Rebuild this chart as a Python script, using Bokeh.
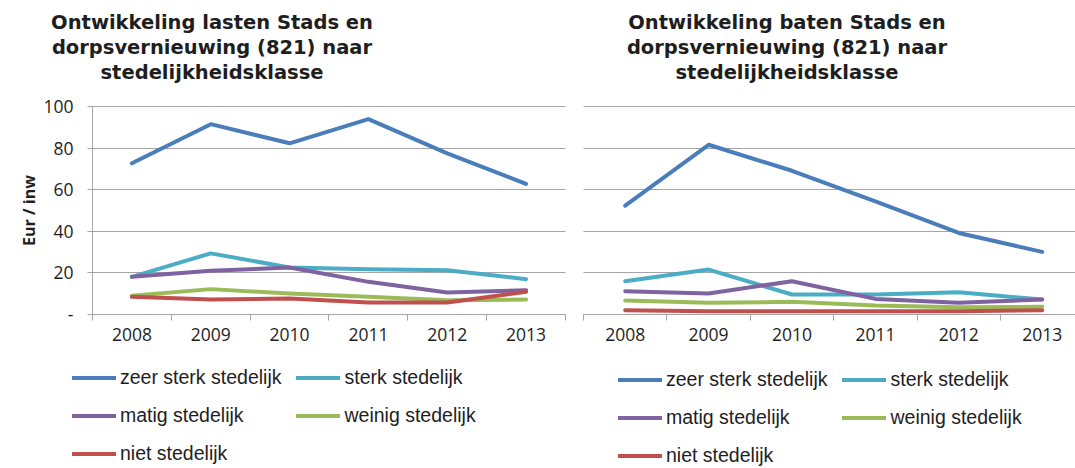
from bokeh.plotting import figure
from bokeh.layouts import row, column
from bokeh.models import Range1d, FixedTicker, Legend, LegendItem, Div
from bokeh.embed import file_html
from bokeh.resources import INLINE

years = ["2008", "2009", "2010", "2011", "2012", "2013"]
categories = ["zeer sterk stedelijk", "sterk stedelijk", "matig stedelijk",
              "weinig stedelijk", "niet stedelijk"]

lasten_zeer_sterk = [72.7, 91.5, 82.3, 93.9, 77.5, 62.8]
lasten_sterk = [18.1, 29.4, 22.6, 21.8, 21.3, 17.0]
lasten_matig = [18.1, 21.0, 22.6, 15.7, 10.6, 11.7]
lasten_weinig = [9.0, 12.2, 10.1, 8.5, 6.9, 7.2]
lasten_niet = [8.5, 7.2, 7.7, 5.8, 5.8, 10.9]

baten_zeer_sterk = [52.3, 81.6, 69.1, 54.4, 39.2, 30.1]
baten_sterk = [16.0, 21.6, 9.6, 9.6, 10.7, 7.2]
baten_matig = [11.2, 10.1, 16.0, 7.5, 5.6, 7.2]
baten_weinig = [6.7, 5.6, 6.1, 4.3, 3.5, 3.7]
baten_niet = [2.1, 1.6, 1.6, 1.6, 1.6, 2.1]

y_ticks = [0, 20, 40, 60, 80, 100]
y_labels = {0: "-"}

title_left = ["Ontwikkeling lasten Stads en", "dorpsvernieuwing (821) naar", "stedelijkheidsklasse"]
title_right = ["Ontwikkeling baten Stads en", "dorpsvernieuwing (821) naar", "stedelijkheidsklasse"]

colors = ["#4A7EBB", "#4BACC6", "#7F63A1", "#9BBB59", "#C0504D"]
GRID = "#A5A5A5"
TXT = "#1E1E1E"
TITLE_H = 90
CHART_H = 468 - TITLE_H
# plot-area geometry (pixels inside each chart figure)
AREA_TOP = 106 - TITLE_H
AREA_BOTTOM = 314 - TITLE_H


def make_title(lines, outer_w, inner_w):
    html = ('<div style="width:%dpx;text-align:center;font-family:\'DejaVu Sans\';'
            'font-weight:bold;font-size:19.5px;line-height:25px;'
            'color:%s;padding-top:10px;white-space:nowrap;">%s</div>') % (
        inner_w, TXT, "<br>".join(lines))
    return Div(text=html, width=outer_w, height=TITLE_H, margin=0)


def make_chart(series, width, area_left, area_right, cat_px, show_y, leg_x, leg_y):
    n = len(years)
    px_per_unit = (AREA_BOTTOM - AREA_TOP) / 100.0
    x0 = -0.5 - area_left / cat_px
    x1 = -0.5 + (width - area_left) / cat_px
    y0 = -(CHART_H - AREA_BOTTOM) / px_per_unit
    y1 = 100 + AREA_TOP / px_per_unit
    x_hi = min(n - 0.5, -0.5 + (area_right - area_left) / cat_px)

    p = figure(width=width, height=CHART_H, output_backend="svg", toolbar_location=None,
               x_range=Range1d(x0, x1), y_range=Range1d(y0, y1),
               min_border_left=0, min_border_right=0, min_border_top=0, min_border_bottom=0)
    p.outline_line_color = None
    p.background_fill_color = "white"
    idx = list(range(n))
    rends = []
    for vals, col in zip(series, colors):
        r = p.line(idx, vals, line_color=col, line_width=4, line_join="round", line_cap="round")
        rends.append(r)

    xa = p.xaxis[0]
    xa.fixed_location = 0
    xa.bounds = (-0.5, x_hi)
    xa.ticker = FixedTicker(ticks=idx, minor_ticks=[i - 0.5 for i in range(n + 1)])
    xa.major_label_overrides = {i: y for i, y in enumerate(years)}
    xa.major_tick_out = 0
    xa.major_tick_in = 0
    xa.minor_tick_out = 6
    xa.minor_tick_in = 0
    xa.minor_tick_line_color = GRID
    xa.axis_line_color = GRID
    xa.major_label_standoff = 7
    xa.major_label_text_font = "Open Sans"
    xa.major_label_text_font_size = "17.5px"
    xa.major_label_text_color = TXT
    p.xgrid.visible = False

    ya = p.yaxis[0]
    ya.fixed_location = -0.5
    ya.bounds = (0, 100)
    ya.ticker = FixedTicker(ticks=y_ticks, minor_ticks=[])
    ya.major_label_overrides = y_labels
    ya.major_tick_out = 5
    ya.major_tick_in = 0
    ya.minor_tick_out = 0
    ya.minor_tick_in = 0
    ya.major_tick_line_color = GRID
    ya.axis_line_color = GRID
    ya.major_label_standoff = 14
    ya.major_label_text_font = "Open Sans"
    ya.major_label_text_font_size = "17.5px"
    ya.major_label_text_color = TXT
    if show_y:
        ya.axis_label = "Eur / inw"
        ya.axis_label_text_font = "Open Sans"
        ya.axis_label_text_font_style = "bold"
        ya.axis_label_text_font_size = "16px"
        ya.axis_label_text_color = TXT
        ya.axis_label_standoff = 0
    else:
        ya.visible = False
    g = p.ygrid[0]
    g.ticker = FixedTicker(ticks=y_ticks, minor_ticks=[])
    g.grid_line_color = GRID
    g.grid_line_width = 1
    g.bounds = (0, 100)
    try:
        g.cross_bounds = (-0.5, x_hi)
    except AttributeError:
        pass

    items = [LegendItem(label=c, renderers=[r]) for c, r in zip(categories, rends)]
    leg = Legend(items=items, location=(leg_x, leg_y), orientation="horizontal", ncols=2,
                 background_fill_alpha=0, border_line_color=None, padding=0, margin=0,
                 spacing=15, label_standoff=4, glyph_width=44, glyph_height=19,
                 label_height=19, label_text_font="Liberation Sans",
                 label_text_font_size="19.5px", label_text_color=TXT)
    p.add_layout(leg)
    return p


p1 = make_chart([lasten_zeer_sterk, lasten_sterk, lasten_matig, lasten_weinig, lasten_niet],
                574, 92, 565, 78.83, True, 72, 3)
p2 = make_chart([baten_zeer_sterk, baten_sterk, baten_matig, baten_weinig, baten_niet],
                501, 9, 2000, 83.4, False, 44, 1)

t1 = make_title(title_left, 574, 424)
t2 = make_title(title_right, 501, 426)

layout = row(column(t1, p1), column(t2, p2))
open("out.html", "w").write(file_html(layout, INLINE))
